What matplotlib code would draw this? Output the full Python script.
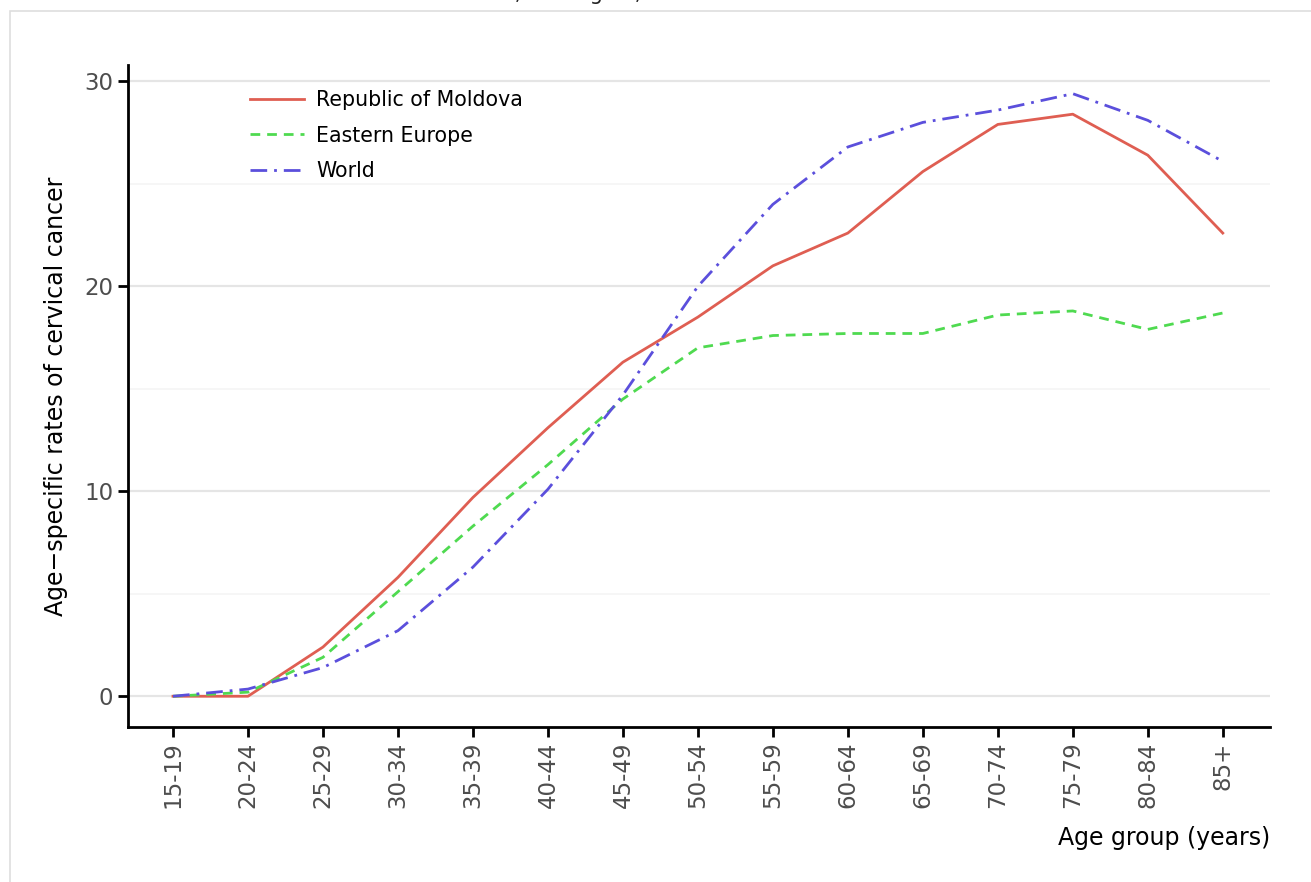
import matplotlib
matplotlib.use("Agg")
import matplotlib.pyplot as plt
from matplotlib.patches import Rectangle

age_groups = ["15-19", "20-24", "25-29", "30-34", "35-39", "40-44", "45-49",
              "50-54", "55-59", "60-64", "65-69", "70-74", "75-79", "80-84", "85+"]
moldova = [0.0, 0.0, 2.4, 5.8, 9.7, 13.1, 16.3, 18.5, 21.0, 22.6, 25.6, 27.9, 28.4, 26.4, 22.6]
eastern_europe = [0.0, 0.2, 1.9, 5.1, 8.3, 11.3, 14.5, 17.0, 17.6, 17.7, 17.7, 18.6, 18.8, 17.9, 18.7]
world = [0.0, 0.35, 1.4, 3.2, 6.3, 10.1, 14.7, 20.0, 24.0, 26.8, 28.0, 28.6, 29.4, 28.1, 26.1]

fig = plt.figure(figsize=(13.11, 8.82), dpi=100)
# outer panel border
fig.patches.append(Rectangle((10/1311, -0.1), 1.2, 1 - 11/882 + 0.1, transform=fig.transFigure,
                             fill=False, edgecolor="#dedede", linewidth=1.2))
# clipped title (only its lower edge is visible in the reference)
fig.text(0.493, 1.0 + 6/882, "Moldova, the region, and the rest of world", ha="center", va="center",
         fontsize=15, color="#222222")

ax = fig.add_axes([128/1311, 1 - 727/882, (1270 - 128)/1311, (727 - 65)/882])
x = list(range(len(age_groups)))

ax.set_yticks([5, 15, 25], minor=True)
ax.grid(axis="y", which="major", color="#e5e5e5", linewidth=1.6)
ax.grid(axis="y", which="minor", color="#f6f6f6", linewidth=1.4)
ax.set_axisbelow(True)

ax.plot(x, moldova, color="#df5e52", linewidth=2, label="Republic of Moldova")
ax.plot(x, eastern_europe, color="#4fda50", linewidth=2, linestyle=(0, (3.5, 2.5)), label="Eastern Europe")
ax.plot(x, world, color="#5b4fdc", linewidth=2, linestyle=(0, (6, 2.5, 1, 2.5)), label="World")

ax.set_xlim(-0.6, 14.63)
ax.set_ylim(-1.5, 30.8)
ax.set_xticks(x)
ax.set_xticklabels(age_groups, rotation=90)
ax.set_yticks([0, 10, 20, 30])
ax.tick_params(axis="both", which="major", labelsize=16.5, labelcolor="#4d4d4d", color="black",
               length=7, width=2, direction="out")
ax.tick_params(axis="y", which="minor", length=0)
for s in ["top", "right"]:
    ax.spines[s].set_visible(False)
for s in ["left", "bottom"]:
    ax.spines[s].set_linewidth(2)
    ax.spines[s].set_color("black")

ax.set_xlabel("Age group (years)", fontsize=17, loc="right", labelpad=13)
ax.set_ylabel("Age\u2212specific rates of cervical cancer", fontsize=17, labelpad=12)

leg = ax.legend(loc="upper left", bbox_to_anchor=(0.091, 0.99), frameon=False, fontsize=14.8,
                handlelength=2.6, handletextpad=0.6, labelspacing=0.75)

fig.savefig("out.png", dpi=100)
